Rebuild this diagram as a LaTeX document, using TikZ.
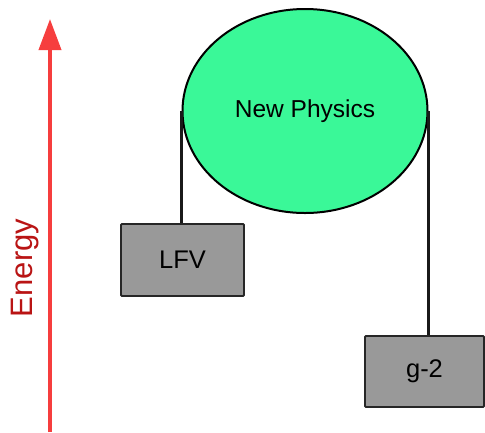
\documentclass[tikz,border=0pt]{standalone}
\usepackage{fontspec}
\setmainfont{Liberation Sans}
\usetikzlibrary{arrows.meta,shapes.geometric}
\definecolor{npgreen}{RGB}{58,248,152}
\definecolor{boxgray}{RGB}{153,153,153}
\definecolor{arrred}{RGB}{246,62,62}
\definecolor{txtred}{RGB}{185,20,20}
\begin{document}
\begin{tikzpicture}[x=1pt,y=-1pt,
  boxst/.style={draw=black!85, line width=1.8pt, fill=boxgray, minimum width=123pt, minimum height=72pt, inner sep=0pt, rounded corners=1pt, font=\fontsize{25.5}{28}\selectfont},
  conn/.style={draw=black!90, line width=2.2pt}]
\useasboundingbox (0,0) rectangle (485,432);
\node[draw=black, line width=2pt, fill=npgreen, ellipse, minimum width=245pt, minimum height=204pt, inner sep=0pt, font=\fontsize{24.5}{28}\selectfont] (np) at (305,111) {New Physics};
\node[boxst] (lfv) at (182.5,260) {LFV};
\node[boxst, minimum width=119pt, minimum height=71pt] (g2) at (424.5,371.5) {g-2};
\draw[conn] (np.west) -- (np.west |- lfv.north);
\draw[conn] (np.east) -- (np.east |- g2.north);
\coordinate (abot) at (50,432);
\coordinate (atop) at (50,19);
\draw[arrred, line width=3.8pt, -{Triangle[width=22pt,length=31pt]}] (abot) -- (atop);
\node[rotate=90, text=txtred, font=\fontsize{31}{34}\selectfont, inner sep=0pt] (en) at (25,268) {Energy};
\end{tikzpicture}
\end{document}
